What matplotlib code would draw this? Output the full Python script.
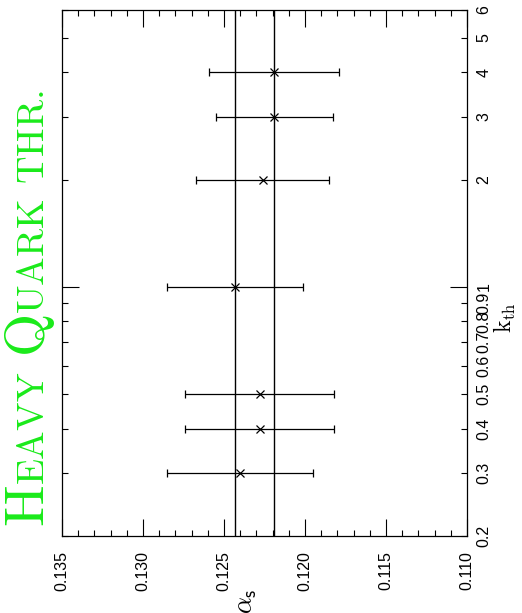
import numpy as np
import matplotlib
matplotlib.use("Agg")
import matplotlib.pyplot as plt
from matplotlib.ticker import FixedLocator, FixedFormatter

plt.rcParams['font.family'] = ['Liberation Sans', 'DejaVu Sans']
plt.rcParams['mathtext.fontset'] = 'cm'

# alpha_s fits for different heavy-quark threshold factors
kth = [0.3, 0.4, 0.5, 1.0, 2.0, 3.0, 4.0]
alpha_s = [0.1240, 0.1228, 0.1228, 0.1243, 0.1226, 0.1219, 0.1219]
alpha_err = [0.0045, 0.0046, 0.0046, 0.0042, 0.0041, 0.0036, 0.0040]

# reference values drawn as full-height lines
ref_lines = [0.1243, 0.1219]

alpha_ticks = [0.135, 0.130, 0.125, 0.120, 0.115, 0.110]
k_major = [1.0]
k_minor = [0.2, 0.3, 0.4, 0.5, 0.6, 0.7, 0.8, 0.9, 2, 3, 4, 5, 6]

W, H = 522, 613
fig = plt.figure(figsize=(W / 100, H / 100), dpi=100)

# axes frame in pixel coordinates (left, right, top, bottom)
x0, x1, ytop, ybot = 62, 467, 9.5, 536
ax = fig.add_axes([x0 / W, (H - ybot) / H, (x1 - x0) / W, (ybot - ytop) / H])

for a in ref_lines:
    ax.axvline(a, color='black', lw=1.0)

ax.errorbar(alpha_s, kth, xerr=alpha_err, fmt='x', color='black',
            ms=6, mew=0.9, elinewidth=0.9, capsize=3, capthick=0.9)

ax.set_xlim(0.135, 0.110)
ax.set_yscale('log')
ax.set_ylim(0.2, 6)

ax.xaxis.set_major_locator(FixedLocator(alpha_ticks))
ax.xaxis.set_major_formatter(FixedFormatter(['%.3f' % v for v in alpha_ticks]))
ax.xaxis.set_minor_locator(FixedLocator(np.arange(0.110, 0.1351, 0.001)))

ax.yaxis.set_major_locator(FixedLocator(k_major))
ax.yaxis.set_major_formatter(FixedFormatter(['1']))
ax.yaxis.set_minor_locator(FixedLocator(k_minor))
ax.yaxis.set_minor_formatter(FixedFormatter(['%g' % v for v in k_minor]))

ax.tick_params(axis='x', which='both', direction='in', top=True, bottom=True,
               labelsize=11.5, labelrotation=90, pad=11)
ax.tick_params(axis='x', which='major', length=12, width=0.8)
ax.tick_params(axis='x', which='minor', length=4.5, width=0.8)
ax.tick_params(axis='y', which='both', direction='in', left=True, right=True,
               labelleft=False, labelright=True, labelsize=11.5,
               labelrotation=90, pad=7)
ax.tick_params(axis='y', which='major', length=12, width=0.8)
ax.tick_params(axis='y', which='minor', length=4.5, width=0.8)
for lab in ax.get_yticklabels(which='both'):
    lab.set_verticalalignment('center')

for sp in ax.spines.values():
    sp.set_linewidth(0.9)

fig.text(247 / W, (H - 601) / H, r'$\alpha_{\mathsf{s}}$', fontsize=19,
         rotation=90, ha='center', va='center')
fig.text(505 / W, (H - 318) / H, r'$\mathrm{k}_{\mathrm{th}}$', fontsize=17,
         rotation=90, ha='center', va='center')

# small-caps title built from pieces, running up the left side
pieces = [('H', 40), ('EAVY', 27.5), (None, 15), ('Q', 40), ('UARK', 27.5),
          (None, 15), ('THR.', 27.5)]
green = '#1aea1a'
renderer = fig.canvas.get_renderer()
ypos = H - 527
xbase = 44
for s, size in pieces:
    if s is None:
        ypos += size
        continue
    t = fig.text(xbase / W, ypos / H, r'$\mathrm{%s}$' % s, fontsize=size,
                 color=green, rotation=90, rotation_mode='anchor',
                 ha='left', va='baseline')
    bb = t.get_window_extent(renderer)
    ypos += bb.height

fig.savefig('out.png', dpi=100)
